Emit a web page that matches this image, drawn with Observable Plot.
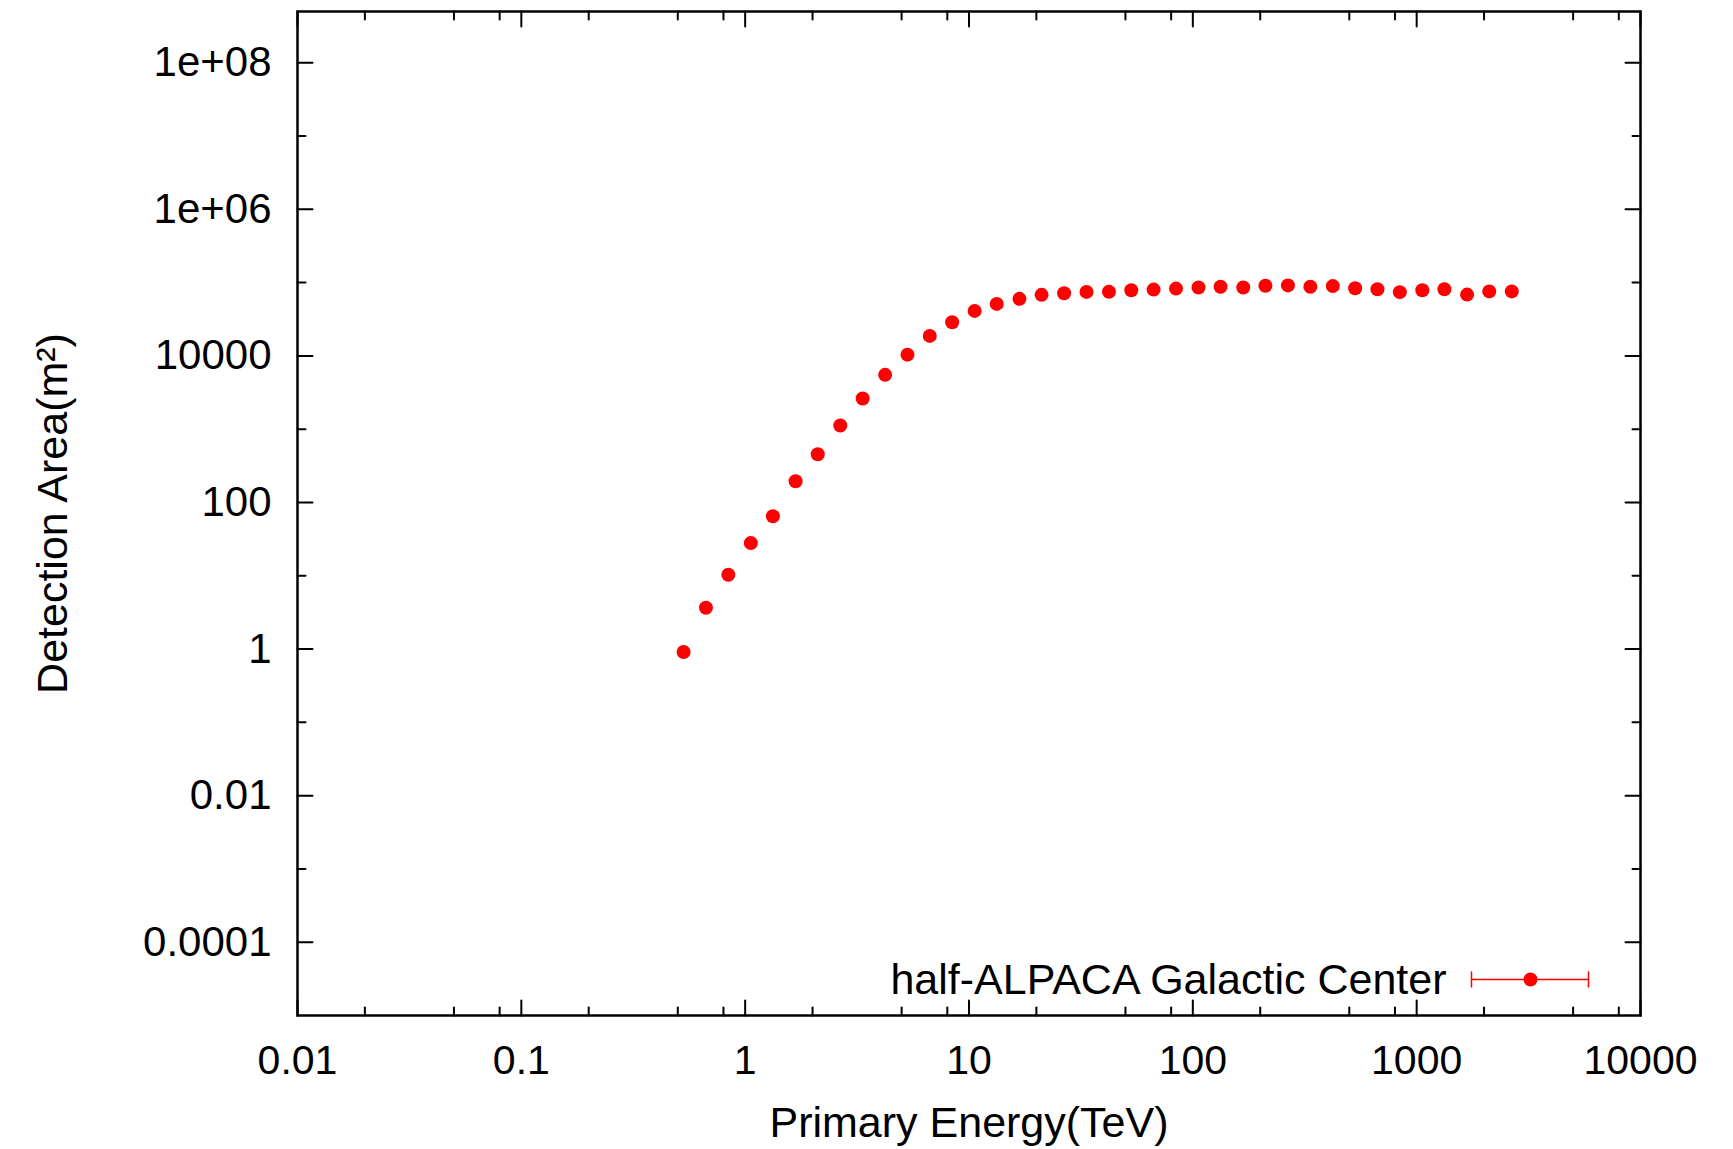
<!DOCTYPE html>
<html>
<head>
<meta charset="utf-8">
<script src="https://cdn.jsdelivr.net/npm/d3@7"></script>
<script src="https://cdn.jsdelivr.net/npm/@observablehq/plot@0.6"></script>
<style>
  html, body { margin: 0; padding: 0; background: #fff; }
  #chart svg { display: block; }
</style>
</head>
<body>
<div id="chart"></div>
<script>
// ---- data ----
const energies = [0.531, 0.668, 0.841, 1.06, 1.33, 1.68, 2.11, 2.66, 3.35, 4.22,
  5.31, 6.68, 8.41, 10.6, 13.3, 16.8, 21.1, 26.6, 33.5, 42.2,
  53.1, 66.8, 84.1, 106, 133, 168, 211, 266, 335, 422,
  531, 668, 841, 1060, 1330, 1680, 2110, 2660];
const areas = [0.91, 3.66, 10.3, 27.9, 65, 195, 455, 1120, 2620, 5510,
  10400, 18750, 28800, 41100, 51200, 60000, 68000, 71500, 74600, 75100,
  78500, 80200, 82800, 85700, 87700, 85700, 90400, 91600, 87700, 89600,
  83800, 81000, 74100, 78500, 81000, 68600, 75800, 75800];

const xTicks = [0.01, 0.1, 1, 10, 100, 1000, 10000];
const xTickLabels = ["0.01", "0.1", "1", "10", "100", "1000", "10000"];
const xMinorTicks = [0.02, 0.05, 0.08, 0.2, 0.5, 0.8, 2, 5, 8, 20, 50, 80, 200, 500, 800, 2000, 5000, 8000];
const yTicks = [1e-4, 1e-2, 1, 100, 1e4, 1e6, 1e8];
const yTickLabels = ["0.0001", "0.01", "1", "100", "10000", "1e+06", "1e+08"];
const yMinorTicks = [1e-3, 1e-1, 10, 1e3, 1e5, 1e7];

const xTitle = "Primary Energy(TeV)";
const yTitle = "Detection Area(m²)";
const seriesName = "half-ALPACA Galactic Center";

const points = energies.map((e, i) => ({energy: e, area: areas[i]}));

const tickShape = {draw(context, l) { context.moveTo(0, 0); context.lineTo(0, -l); }};
const capShape = {draw(context, l) { context.moveTo(0, -l / 2); context.lineTo(0, l / 2); }};

function ticks(values, side, len) {
  const rot = {bottom: 0, top: 180, left: 90, right: -90}[side];
  const opts = {frameAnchor: side, length: len, rotate: rot, anchor: "start", shape: tickShape, stroke: "black", strokeWidth: 2};
  return (side === "bottom" || side === "top") ? Plot.vectorX(values, opts) : Plot.vectorY(values, opts);
}

const RED = "#ff0000";

const chart = Plot.plot({
  width: 1733,
  height: 1149,
  marginLeft: 297,
  marginRight: 93,
  marginTop: 11,
  marginBottom: 134,
  style: {fontFamily: "'Liberation Sans', Arial, Helvetica, sans-serif", fontSize: "40px", background: "#fff", color: "#000"},
  x: {type: "log", domain: [0.01, 10000]},
  y: {type: "log", domain: [1e-5, 5e8]},
  marks: [
    // tick labels
    Plot.axisX({ticks: xTicks, tickFormat: d => xTickLabels[xTicks.indexOf(d)], tickSize: 0, tickPadding: 29, label: null, fontSize: 41}),
    Plot.axisY({ticks: yTicks, tickFormat: d => yTickLabels[yTicks.indexOf(d)], tickSize: 0, tickPadding: 26, label: null, fontSize: 42}),
    // inward ticks on all four sides
    ticks(xTicks, "bottom", 15), ticks(xTicks, "top", 15),
    ticks(xMinorTicks, "bottom", 8), ticks(xMinorTicks, "top", 8),
    ticks(yTicks, "left", 15), ticks(yTicks, "right", 15),
    ticks(yMinorTicks, "left", 8), ticks(yMinorTicks, "right", 8),
    // axis titles
    Plot.text([xTitle], {text: d => d, frameAnchor: "bottom", lineAnchor: "top", dy: 91, fontSize: 43}),
    Plot.text([yTitle], {text: d => d, frameAnchor: "left", rotate: -90, lineAnchor: "middle", textAnchor: "middle", dx: -244, dy: 0, fontSize: 43}),
    // data
    Plot.dot(points, {x: "energy", y: "area", r: 7, fill: RED}),
    // legend (inside, bottom-right)
    Plot.text([seriesName], {text: d => d, frameAnchor: "bottom-right", textAnchor: "end", lineAnchor: "middle", dx: -194, dy: -35, fontSize: 43}),
    Plot.vector([seriesName], {frameAnchor: "bottom-right", dx: -169, dy: -36, rotate: 90, length: 117, anchor: "start", shape: tickShape, stroke: RED, strokeWidth: 1.5}),
    Plot.vector([seriesName], {frameAnchor: "bottom-right", dx: -169, dy: -36, rotate: 0, length: 15, anchor: "start", shape: capShape, stroke: RED, strokeWidth: 1.5}),
    Plot.vector([seriesName], {frameAnchor: "bottom-right", dx: -52, dy: -36, rotate: 0, length: 15, anchor: "start", shape: capShape, stroke: RED, strokeWidth: 1.5}),
    Plot.dot([seriesName], {frameAnchor: "bottom-right", dx: -110, dy: -36, r: 7, fill: RED}),
    Plot.frame({stroke: "black", strokeWidth: 2.5})
  ]
});
document.getElementById("chart").appendChild(chart);
</script>
</body>
</html>
